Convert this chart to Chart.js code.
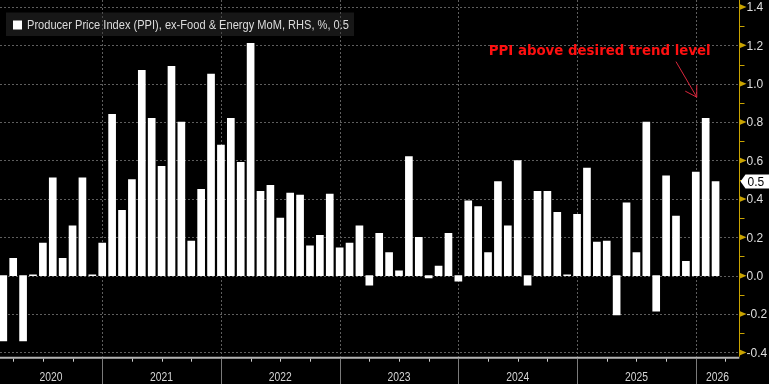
<!DOCTYPE html>
<html>
<head>
  <script src="https://cdn.jsdelivr.net/npm/chart.js@4"></script>
  <style>
    html, body { margin: 0; padding: 0; background: #000; }
  </style>
</head>
<body>
  <canvas id="myChart" width="769" height="384"></canvas>
  <script>
    // PPI ex-food & energy, MoM %, monthly from Feb 2020 to Feb 2026
    var startYear = 2020
    var startMonth = 2
    var ppiCore = [
      -0.34, 0.09, -0.34, 0.005, 0.17, 0.51, 0.09, 0.26, 0.51, 0.005, 0.17,
      0.84, 0.34, 0.50, 1.07, 0.82, 0.57, 1.09, 0.80, 0.18, 0.45, 1.05, 0.68,
      0.82, 0.59, 1.21, 0.44, 0.47, 0.30, 0.43, 0.42, 0.155, 0.21, 0.425, 0.145,
      0.17, 0.26, -0.05, 0.22, 0.12, 0.025, 0.62, 0.20, -0.012, 0.05, 0.22, -0.028,
      0.39, 0.36, 0.12, 0.49, 0.26, 0.60, -0.05, 0.44, 0.44, 0.33, 0.005, 0.32,
      0.56, 0.175, 0.18, -0.205, 0.38, 0.12, 0.80, -0.185, 0.52, 0.31, 0.075, 0.54,
      0.82, 0.49
    ]
    var yTicks = [-0.4, -0.2, 0.0, 0.2, 0.4, 0.6, 0.8, 1.0, 1.2, 1.4]
    var yMinor = [-0.3, -0.1, 0.1, 0.3, 0.5, 0.7, 0.9, 1.1, 1.3]
    var yTickLabels = ['-0.4', '-0.2', '0.0', '0.2', '0.4', '0.6', '0.8', '1.0', '1.2', '1.4']
    var yearLabels = ['2020', '2021', '2022', '2023', '2024', '2025', '2026']
    var legendText = 'Producer Price Index (PPI), ex-Food & Energy MoM, RHS, %, 0.5'
    var lastLabel = '0.5'
    var noteText = 'PPI above desired trend level'

    // month labels, e.g. "2020-02"
    var months = []
    for (var k = 0; k < ppiCore.length; k++) {
      var m = startMonth - 1 + k
      var yy = startYear + Math.floor(m / 12)
      var mm = (m % 12) + 1
      months.push(yy + '-' + (mm < 10 ? '0' : '') + mm)
    }
    // index of December in each year (Bloomberg draws months at month end)
    function decIndex(year) { return (year - startYear) * 12 + 12 - startMonth }

    function fitFont(c, text, weight, family, width) {
      c.font = weight + ' 20px ' + family
      var s = 20 * width / c.measureText(text).width
      return weight + ' ' + s.toFixed(2) + 'px ' + family
    }

    // draws text at a given font size, squeezed sideways to a given width
    function squeezeText(c, text, px, py, width) {
      var w = c.measureText(text).width
      c.save()
      c.translate(px, py)
      c.scale(width / w, 1)
      c.fillText(text, 0, 0)
      c.restore()
    }

    function seg(c, x1, y1, x2, y2) {
      c.beginPath(); c.moveTo(x1, y1); c.lineTo(x2, y2); c.stroke()
    }

    var deco = {
      id: 'deco',
      beforeDatasetsDraw(chart) {
        var c = chart.ctx, a = chart.chartArea, x = chart.scales.x, y = chart.scales.y
        c.save()
        c.strokeStyle = '#5e5e5e'
        c.lineWidth = 1
        c.setLineDash([2, 2])
        yTicks.forEach(function (t) {
          var py = Math.round(y.getPixelForValue(t)) + 0.5
          seg(c, a.left, py, a.right, py)
        })
        yearLabels.forEach(function (yr) {
          var i = decIndex(+yr)
          if (i < x.min || i > x.max) return
          var px = Math.round(x.getPixelForValue(i)) + 0.5
          seg(c, px, a.top, px, a.bottom)
        })
        c.restore()
      },
      afterDatasetsDraw(chart) {
        var c = chart.ctx, a = chart.chartArea, x = chart.scales.x, y = chart.scales.y
        var H = chart.height, W = chart.width
        c.save()

        // bottom axis
        c.strokeStyle = '#b4b4b4'
        c.lineWidth = 2
        seg(c, a.left, a.bottom + 1, a.right, a.bottom + 1)
        c.lineWidth = 1
        c.strokeStyle = '#cfcfcf'
        for (var i = Math.ceil(x.min); i <= x.max; i++) {
          var mon = (startMonth - 1 + i) % 12 + 1
          if (mon % 3 !== 0) continue
          var px = Math.round(x.getPixelForValue(i)) + 0.5
          if (mon === 12) {
            c.strokeStyle = '#7a7a7a'
            seg(c, px, a.bottom + 2, px, H)
            c.strokeStyle = '#cfcfcf'
          } else {
            seg(c, px, a.bottom + 2, px, a.bottom + 5)
          }
        }
        c.font = '12px "Liberation Sans", Arial, sans-serif'
        c.fillStyle = '#d6d6d6'
        c.textAlign = 'left'
        c.textBaseline = 'middle'
        yearLabels.forEach(function (yr) {
          var l = Math.max(a.left, x.getPixelForValue(decIndex(+yr) - 12))
          var r = Math.min(a.right, x.getPixelForValue(decIndex(+yr)))
          squeezeText(c, yr, (l + r) / 2 - 11.5, a.bottom + 21, 23)
        })

        // right axis
        var gold = '#c9a300'
        c.strokeStyle = gold
        c.fillStyle = gold
        var ax = Math.round(a.right) + 0.5
        seg(c, ax, 0, ax, a.bottom)
        yMinor.forEach(function (t) {
          var py = Math.round(y.getPixelForValue(t)) + 0.5
          seg(c, ax, py, ax + 5, py)
        })
        yTicks.forEach(function (t) {
          var py = y.getPixelForValue(t)
          c.beginPath()
          c.moveTo(ax, py - 3); c.lineTo(ax + 7, py); c.lineTo(ax, py + 3)
          c.closePath(); c.fill()
        })
        c.fillStyle = '#dedede'
        c.textAlign = 'left'
        c.font = '12px "Liberation Sans", Arial, sans-serif'
        yTicks.forEach(function (t, j) {
          var py = y.getPixelForValue(t)
          c.fillText(yTickLabels[j], ax + 7, py + 1)
        })

        // last value tag
        var ly = y.getPixelForValue(ppiCore[ppiCore.length - 1])
        c.fillStyle = '#ffffff'
        c.beginPath()
        c.moveTo(ax + 1, ly)
        c.lineTo(ax + 6, ly - 7)
        c.lineTo(W, ly - 7)
        c.lineTo(W, ly + 7)
        c.lineTo(ax + 6, ly + 7)
        c.closePath(); c.fill()
        c.fillStyle = '#000'
        c.fillText(lastLabel, ax + 8, ly + 1)

        // legend
        c.fillStyle = 'rgba(50,50,50,0.45)'
        c.fillRect(6, 12.5, 348, 23.5)
        c.fillStyle = '#ffffff'
        c.fillRect(13, 20.5, 9, 9)
        c.font = '12px "Liberation Sans", Arial, sans-serif'
        c.fillStyle = '#dcdcdc'
        squeezeText(c, legendText, 27, 25.5, 322)

        // note and arrow
        c.font = fitFont(c, noteText, 'bold', '"DejaVu Sans", sans-serif', 222)
        c.fillStyle = '#ff1010'
        c.textAlign = 'right'
        c.fillText(noteText, x.getPixelForValue(71.5), y.getPixelForValue(1.165))
        var tx = x.getPixelForValue(70.1), ty = y.getPixelForValue(0.93)
        var sx = x.getPixelForValue(68.0), sy = y.getPixelForValue(1.115)
        c.strokeStyle = '#d8263c'
        c.lineWidth = 1
        seg(c, sx, sy, tx, ty)
        seg(c, tx, ty, tx - 11.5, ty - 6)
        seg(c, tx, ty, tx, ty - 12)

        c.restore()
      }
    }

    var ctx = document.getElementById('myChart').getContext('2d')
    var chart = new Chart(ctx, {
      type: 'bar',
      data: {
        labels: months,
        datasets: [{
          label: legendText,
          data: ppiCore.map(function (v, i) { return { x: i, y: v } }),
          backgroundColor: '#ffffff',
          borderWidth: 0,
          barThickness: 7
        }]
      },
      options: {
        responsive: false,
        animation: false,
        layout: { padding: 0 },
        plugins: { legend: { display: false }, tooltip: { enabled: false } },
        scales: {
          x: {
            type: 'linear', offset: false, min: -0.334, max: 74.4,
            grid: { display: false }, border: { display: false }, ticks: { display: false },
            afterFit: function (s) { s.height = 27.3 }
          },
          y: {
            position: 'right', min: -0.422, max: 1.436,
            grid: { display: false }, border: { display: false }, ticks: { display: false },
            afterFit: function (s) { s.width = 29.7 }
          }
        }
      },
      plugins: [deco]
    })
  </script>
</body>
</html>
